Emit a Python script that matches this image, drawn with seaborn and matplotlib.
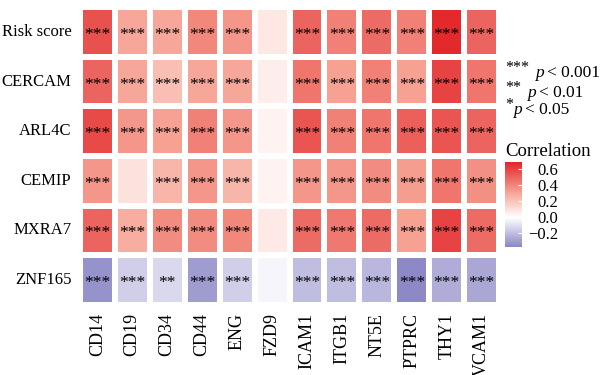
import numpy as np
import pandas as pd
import matplotlib
matplotlib.use("Agg")
import matplotlib.pyplot as plt
import seaborn as sns
from matplotlib.colors import LinearSegmentedColormap

# Datos: correlaciones y significancia
genes = ["Risk score", "CERCAM", "ARL4C", "CEMIP", "MXRA7", "ZNF165"]
markers = ["CD14", "CD19", "CD34", "CD44", "ENG", "FZD9",
           "ICAM1", "ITGB1", "NT5E", "PTPRC", "THY1", "VCAM1"]

risk_score = [0.56, 0.30, 0.30, 0.40, 0.35, 0.08, 0.50, 0.42, 0.48, 0.42, 0.68, 0.50]
cercam     = [0.50, 0.30, 0.22, 0.30, 0.30, 0.06, 0.45, 0.32, 0.42, 0.32, 0.60, 0.45]
arl4c      = [0.58, 0.35, 0.32, 0.42, 0.35, 0.04, 0.55, 0.42, 0.45, 0.52, 0.55, 0.50]
cemip      = [0.35, 0.10, 0.25, 0.35, 0.25, 0.04, 0.35, 0.35, 0.38, 0.33, 0.45, 0.37]
mxra7      = [0.50, 0.28, 0.38, 0.38, 0.40, 0.07, 0.48, 0.44, 0.48, 0.32, 0.60, 0.48]
znf165     = [-0.33, -0.15, -0.12, -0.30, -0.15, -0.03, -0.20, -0.20, -0.22, -0.36, -0.25, -0.27]

stars_risk   = ["***"] * 5 + [""] + ["***"] * 6
stars_cercam = ["***"] * 5 + [""] + ["***"] * 6
stars_arl4c  = ["***"] * 5 + [""] + ["***"] * 6
stars_cemip  = ["***", ""] + ["***"] * 3 + [""] + ["***"] * 6
stars_mxra7  = ["***"] * 5 + [""] + ["***"] * 6
stars_znf165 = ["***", "***", "**", "***", "***", ""] + ["***"] * 6

corr = pd.DataFrame([risk_score, cercam, arl4c, cemip, mxra7, znf165],
                    index=genes, columns=markers)
stars = np.array([stars_risk, stars_cercam, stars_arl4c,
                  stars_cemip, stars_mxra7, stars_znf165])

vmin, vmax = -0.37, 0.69
frac = -vmin / (vmax - vmin)
cmap = LinearSegmentedColormap.from_list(
    "corr", [(0, "#8a86c6"), (frac, "#ffffff"), (frac + (1 - frac) * 0.45, "#f6a495"), (1, "#e3262a")])

plt.rcParams["font.family"] = ["Liberation Serif", "DejaVu Serif"]

fig = plt.figure(figsize=(6, 3.75), dpi=100)
ax = fig.add_axes([0.133, 0.187, 0.699, 0.794])
cax = fig.add_axes([0.842, 0.341, 0.028, 0.227])

sns.heatmap(corr, ax=ax, cmap=cmap, vmin=vmin, vmax=vmax,
            annot=stars, fmt="", annot_kws={"fontsize": 12.5, "color": "black"},
            linewidths=3, linecolor="white", cbar_ax=cax)

# ajustar las estrellas al centro de la celda
for t in ax.texts:
    x, y = t.get_position()
    t.set_position((x, y + 0.06))

ax.tick_params(length=0, pad=6)
ax.set_xticklabels(markers, rotation=90, fontsize=13)
ax.set_yticklabels(genes, rotation=0, fontsize=12)
ax.set_xlabel("")
ax.set_ylabel("")

cax.set_yticks([-0.2, 0.0, 0.2, 0.4, 0.6])
cax.set_yticklabels(["\u22120.2", "0.0", "0.2", "0.4", "0.6"], ha="right")
cax.tick_params(length=3, color="white", direction="in", labelsize=12, pad=26)
cax.set_title("Correlation", fontsize=13.5, loc="left", pad=4)
for s in cax.spines.values():
    s.set_visible(False)

# leyenda de significancia
fig.text(0.842, 0.818, "***", fontsize=11.5, va="center")
fig.text(0.892, 0.805, "p", fontsize=12.5, style="italic", va="center")
fig.text(0.912, 0.805, "< 0.001", fontsize=12.5, va="center")
fig.text(0.842, 0.766, "**", fontsize=11.5, va="center")
fig.text(0.878, 0.753, "p", fontsize=12.5, style="italic", va="center")
fig.text(0.898, 0.753, "< 0.01", fontsize=12.5, va="center")
fig.text(0.842, 0.721, "*", fontsize=11.5, va="center")
fig.text(0.855, 0.708, "p", fontsize=12.5, style="italic", va="center")
fig.text(0.875, 0.708, "< 0.05", fontsize=12.5, va="center")

fig.savefig("out.png", dpi=100)
